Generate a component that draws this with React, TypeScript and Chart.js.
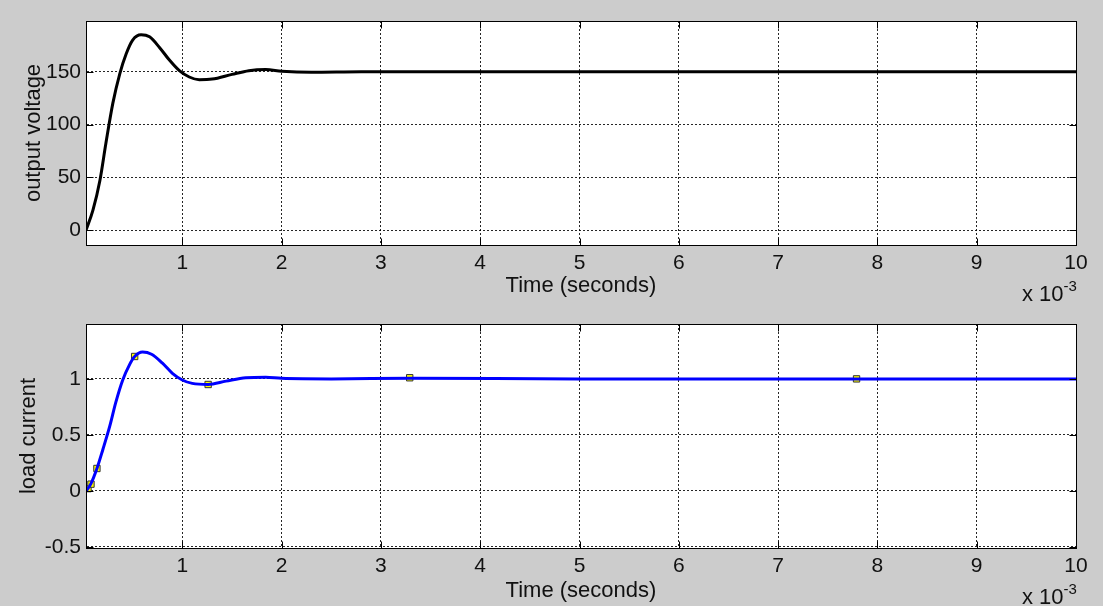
import React, { useEffect, useRef } from "react";
import { Chart, registerables } from "chart.js";
Chart.register(...registerables);

const timeTicks = [1, 2, 3, 4, 5, 6, 7, 8, 9, 10];
const voltageTicks = [0, 50, 100, 150];
const currentTicks = [-0.5, 0, 0.5, 1];

// time in ms (axis shows x 10^-3 s)
const voltageTime = [0.03, 0.1, 0.17, 0.23, 0.3, 0.37, 0.435, 0.5, 0.585, 0.67, 0.77, 0.87, 0.97, 1.07, 1.17, 1.3, 1.5, 1.67, 1.84, 2.0, 2.3, 2.8, 3.5, 5, 7, 10];
const voltage = [0, 19, 47, 82, 120, 148, 167, 180, 185, 183, 173, 161, 151, 145, 142.5, 143, 147.5, 151, 152, 150.5, 149.5, 150, 150, 150, 150, 150];

const currentTime = [0.03, 0.04, 0.08, 0.14, 0.2, 0.27, 0.33, 0.4, 0.47, 0.52, 0.6, 0.69, 0.8, 0.9, 1.0, 1.1, 1.26, 1.44, 1.64, 1.84, 2.0, 2.5, 3.3, 5, 7.8, 10];
const current = [0, 0.01, 0.065, 0.2, 0.37, 0.58, 0.79, 0.99, 1.13, 1.2, 1.24, 1.22, 1.14, 1.05, 0.99, 0.96, 0.95, 0.98, 1.01, 1.015, 1.005, 1.0, 1.005, 1.0, 1.0, 1.0];

const markerTime = [0.05, 0.08, 0.14, 0.52, 1.26, 3.29, 7.79];
const markerCurrent = [0.02, 0.06, 0.2, 1.2, 0.95, 1.01, 1.0];

const FONT = "'Liberation Sans', Arial, sans-serif";

const framePlugin = {
  id: "frame",
  beforeDraw(chart: any) {
    const { ctx, chartArea: a } = chart;
    ctx.save();
    ctx.fillStyle = "#ffffff";
    ctx.fillRect(a.left, a.top, a.right - a.left, a.bottom - a.top);
    ctx.restore();
  },
  afterDraw(chart: any) {
    const { ctx, chartArea: a, scales } = chart;
    ctx.save();
    ctx.strokeStyle = "#000";
    ctx.lineWidth = 1;
    const L = Math.round(a.left) + 0.5, R = Math.round(a.right) + 0.5;
    const T = Math.round(a.top) + 0.5, B = Math.round(a.bottom) + 0.5;
    ctx.strokeRect(L, T, R - L, B - T);
    const len = 7;
    ctx.beginPath();
    scales.x.ticks.forEach((t: any) => {
      const px = Math.round(scales.x.getPixelForValue(t.value)) + 0.5;
      ctx.moveTo(px, B); ctx.lineTo(px, B - len);
      ctx.moveTo(px, T); ctx.lineTo(px, T + len);
    });
    scales.y.ticks.forEach((t: any) => {
      const py = Math.round(scales.y.getPixelForValue(t.value)) + 0.5;
      ctx.moveTo(L, py); ctx.lineTo(L + len, py);
      ctx.moveTo(R, py); ctx.lineTo(R - len, py);
    });
    ctx.stroke();
    ctx.restore();
  },
};

type PanelProps = {
  top: number;
  times: number[];
  values: number[];
  color: string;
  yLabel: string;
  yMin: number;
  yMax: number;
  yTicks: number[];
  yTitlePad: number;
  xTitlePad: number;
  mTimes?: number[];
  mValues?: number[];
};

function Panel(p: PanelProps) {
  const ref = useRef<HTMLCanvasElement>(null);
  useEffect(() => {
    const datasets: any[] = [
      {
        type: "line",
        data: p.times.map((t, i) => ({ x: t, y: p.values[i] })),
        borderColor: p.color,
        borderWidth: 3,
        pointRadius: 0,
        cubicInterpolationMode: "monotone",
        fill: false,
      },
    ];
    if (p.mTimes && p.mValues) {
      datasets.push({
        type: "scatter",
        data: p.mTimes.map((t, i) => ({ x: t, y: p.mValues![i] })),
        pointStyle: "rect",
        pointRadius: 4.5,
        backgroundColor: "#ffff00",
        borderColor: "#333333",
        borderWidth: 1,
        showLine: false,
      });
    }
    const chart = new Chart(ref.current!, {
      type: "line",
      data: { datasets },
      plugins: [framePlugin],
      options: {
        animation: false,
        responsive: false,
        maintainAspectRatio: false,
        events: [],
        layout: { padding: { top: 21, right: 27, bottom: 0, left: 0 } },
        plugins: { legend: { display: false }, tooltip: { enabled: false } },
        scales: {
          x: {
            type: "linear",
            min: 0.03,
            max: 10,
            afterBuildTicks: (s: any) => { s.ticks = timeTicks.map((v) => ({ value: v })); },
            afterFit: (s: any) => { s.height = 58; },
            ticks: {
              autoSkip: false,
              maxRotation: 0,
              padding: 6,
              color: "#111",
              font: { family: FONT, size: 21 },
              callback: (v: any) => String(v),
            },
            grid: { color: "rgba(0,0,0,0.85)", lineWidth: 1, drawTicks: false },
            border: { display: true, color: "#000", width: 1, dash: [2, 2] },
            title: {
              display: true,
              text: "Time (seconds)",
              color: "#111",
              font: { family: FONT, size: 22 },
              padding: { top: 0, bottom: p.xTitlePad },
            },
          },
          y: {
            type: "linear",
            min: p.yMin,
            max: p.yMax,
            afterBuildTicks: (s: any) => { s.ticks = p.yTicks.map((v) => ({ value: v })); },
            afterFit: (s: any) => { s.width = 86; },
            ticks: {
              padding: 5,
              color: "#111",
              font: { family: FONT, size: 21 },
              callback: (v: any) => String(v),
            },
            grid: { color: "rgba(0,0,0,0.85)", lineWidth: 1, drawTicks: false },
            border: { display: true, color: "#000", width: 1, dash: [2, 2] },
            title: {
              display: true,
              text: p.yLabel,
              color: "#111",
              font: { family: FONT, size: 22 },
              padding: { top: p.yTitlePad, bottom: 0 },
            },
          },
        },
      } as any,
    });
    return () => chart.destroy();
  }, []);
  return (
    <div style={{ position: "absolute", left: 0, top: p.top, width: 1103, height: 303 }}>
      <canvas ref={ref} width={1103} height={303} style={{ display: "block" }} />
      <div
        style={{
          position: "absolute",
          left: 1022,
          top: 283,
          fontFamily: FONT,
          fontSize: 22,
          color: "#111",
          whiteSpace: "nowrap",
          lineHeight: "22px",
        }}
      >
        x 10<span style={{ fontSize: 15, position: "relative", top: -10 }}>-3</span>
      </div>
    </div>
  );
}

export default function App() {
  return (
    <div
      style={{
        position: "fixed",
        left: 0,
        top: 0,
        width: 1103,
        height: 606,
        background: "#cccccc",
        overflow: "hidden",
      }}
    >
      <Panel
        top={0}
        times={voltageTime}
        values={voltage}
        color="#000000"
        yLabel="output voltage"
        yMin={-14}
        yMax={198}
        yTicks={voltageTicks}
        yTitlePad={21}
        xTitlePad={4}
      />
      <Panel
        top={303}
        times={currentTime}
        values={current}
        color="#0000ff"
        yLabel="load current"
        yMin={-0.51}
        yMax={1.49}
        yTicks={currentTicks}
        yTitlePad={16}
        xTitlePad={2}
        mTimes={markerTime}
        mValues={markerCurrent}
      />
    </div>
  );
}
